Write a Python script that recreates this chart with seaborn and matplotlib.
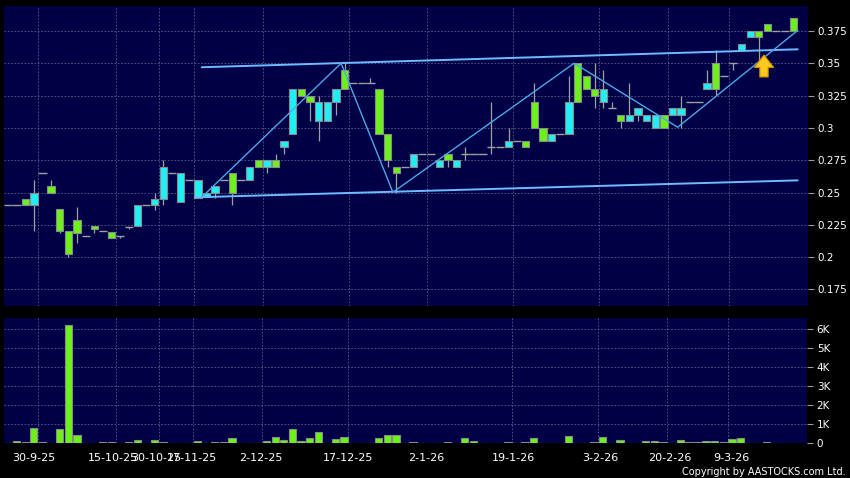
import matplotlib
matplotlib.use('Agg')
import matplotlib.pyplot as plt
from matplotlib.ticker import FuncFormatter
import numpy as np
import pandas as pd
import seaborn as sns

# daily OHLC, one entry per session
opens = [0.24, 0.24, 0.245, 0.24, 0.265, 0.255, 0.2375, 0.22, 0.229, 0.216,
         0.224, 0.22, 0.2195, 0.216, 0.2235, 0.224, 0.24, 0.24, 0.245, 0.265,
         0.243, 0.26, 0.246, 0.2465, 0.25, 0.26, 0.265, 0.26, 0.26, 0.275,
         0.27, 0.275, 0.285, 0.295, 0.33, 0.325, 0.305, 0.305, 0.32, 0.345,
         0.335, 0.335, 0.335, 0.33, 0.295, 0.27, 0.27, 0.27, 0.28, 0.28,
         0.27, 0.28, 0.27, 0.28, 0.28, 0.28, 0.2855, 0.2855, 0.285, 0.29,
         0.29, 0.32, 0.30, 0.29, 0.295, 0.295, 0.35, 0.34, 0.33, 0.32,
         0.315, 0.31, 0.305, 0.31, 0.305, 0.30, 0.31, 0.31, 0.31, 0.32,
         0.32, 0.33, 0.35, 0.34, 0.35, 0.36, 0.37, 0.375, 0.38, 0.375,
         0.375, 0.385]
highs = [0.24, 0.24, 0.245, 0.26, 0.265, 0.26, 0.2375, 0.22, 0.2385, 0.216,
         0.224, 0.22, 0.2195, 0.216, 0.2235, 0.24, 0.24, 0.25, 0.275, 0.265,
         0.265, 0.26, 0.26, 0.25, 0.255, 0.26, 0.265, 0.26, 0.27, 0.275,
         0.275, 0.28, 0.29, 0.33, 0.33, 0.325, 0.325, 0.32, 0.33, 0.35,
         0.335, 0.335, 0.3385, 0.33, 0.295, 0.27, 0.27, 0.28, 0.28, 0.28,
         0.275, 0.28, 0.275, 0.2855, 0.28, 0.28, 0.32, 0.2855, 0.30, 0.29,
         0.29, 0.335, 0.30, 0.295, 0.295, 0.34, 0.35, 0.34, 0.35, 0.345,
         0.32, 0.31, 0.335, 0.315, 0.31, 0.31, 0.31, 0.315, 0.325, 0.32,
         0.32, 0.345, 0.36, 0.34, 0.35, 0.365, 0.375, 0.375, 0.38, 0.375,
         0.375, 0.385]
lows = [0.24, 0.24, 0.24, 0.22, 0.265, 0.25, 0.219, 0.20, 0.211, 0.216,
        0.219, 0.22, 0.215, 0.215, 0.222, 0.224, 0.24, 0.2365, 0.24, 0.265,
        0.243, 0.26, 0.246, 0.2465, 0.246, 0.26, 0.24, 0.26, 0.26, 0.27,
        0.265, 0.27, 0.28, 0.295, 0.325, 0.305, 0.29, 0.305, 0.31, 0.33,
        0.335, 0.335, 0.335, 0.295, 0.27, 0.25, 0.27, 0.27, 0.28, 0.28,
        0.27, 0.27, 0.27, 0.275, 0.28, 0.28, 0.28, 0.2855, 0.285, 0.29,
        0.285, 0.30, 0.29, 0.29, 0.295, 0.295, 0.32, 0.33, 0.315, 0.315,
        0.315, 0.30, 0.305, 0.305, 0.305, 0.30, 0.30, 0.31, 0.30, 0.32,
        0.32, 0.33, 0.325, 0.34, 0.345, 0.36, 0.37, 0.35, 0.375, 0.375,
        0.375, 0.375]
closes = [0.24, 0.24, 0.24, 0.25, 0.265, 0.25, 0.22, 0.2025, 0.219, 0.216,
          0.222, 0.22, 0.215, 0.216, 0.2235, 0.24, 0.24, 0.245, 0.27, 0.265,
          0.265, 0.26, 0.26, 0.25, 0.255, 0.26, 0.25, 0.26, 0.27, 0.27,
          0.275, 0.27, 0.29, 0.33, 0.325, 0.32, 0.32, 0.32, 0.33, 0.33,
          0.335, 0.335, 0.335, 0.295, 0.275, 0.265, 0.27, 0.28, 0.28, 0.28,
          0.275, 0.275, 0.275, 0.28, 0.28, 0.28, 0.2855, 0.2855, 0.29, 0.29,
          0.285, 0.30, 0.29, 0.295, 0.295, 0.32, 0.32, 0.33, 0.325, 0.33,
          0.315, 0.305, 0.31, 0.315, 0.31, 0.31, 0.30, 0.315, 0.315, 0.32,
          0.32, 0.335, 0.33, 0.34, 0.35, 0.365, 0.375, 0.37, 0.375, 0.375,
          0.375, 0.375]
volumes = [10, 120, 70, 800, 50, 30, 750, 6200, 440, 10,
           0, 50, 50, 0, 50, 175, 10, 190, 70, 0,
           0, 0, 100, 0, 50, 50, 260, 10, 10, 10,
           100, 310, 160, 730, 140, 260, 610, 10, 245, 310,
           0, 0, 0, 260, 450, 420, 0, 50, 0, 0,
           0, 50, 0, 260, 100, 0, 0, 0, 90, 0,
           50, 280, 20, 20, 0, 385, 20, 0, 50, 330,
           0, 190, 30, 30, 140, 140, 90, 0, 190, 50,
           90, 120, 100, 50, 245, 280, 0, 0, 50, 10,
           0, 0]

date_labels = ['30-9-25', '15-10-25', '30-10-25', '17-11-25', '2-12-25', '17-12-25',
               '2-1-26', '19-1-26', '3-2-26', '20-2-26', '9-3-26']
date_pos = [3.0, 12.2, 17.2, 21.3, 29.3, 39.4, 48.5, 58.7, 68.7, 76.8, 83.9]
grid_pos = [3.5, 12.5, 17.5, 21.5, 29.5, 39.5, 48.5, 58.5, 68.5, 76.5, 83.5]
price_ticks = [0.175, 0.2, 0.225, 0.25, 0.275, 0.3, 0.325, 0.35, 0.375]
vol_ticks = [0, 1000, 2000, 3000, 4000, 5000, 6000]

# drawn trend lines
zigzag_x = [22.45, 38.6, 44.6, 65.6, 77.6, 91.5]
zigzag_y = [0.2463, 0.350, 0.2502, 0.350, 0.3005, 0.3754]
upper_x = [22.45, 91.5]
upper_y = [0.3469, 0.3608]
lower_x = [21.7, 91.5]
lower_y = [0.2463, 0.2594]
arrow_x = 87.6
arrow_y = [0.3394, 0.3564]

BG = '#000046'
GRID = '#5c5c8c'
CYAN = '#1ff0f8'
GREEN = '#6cf21a'
EDGE = '#8a8a8a'

sns.set_style('dark', {'axes.facecolor': BG, 'figure.facecolor': 'black'})
plt.rcParams['font.family'] = ['DejaVu Sans']

df = pd.DataFrame({'open': opens, 'high': highs, 'low': lows,
                   'close': closes, 'volume': volumes})
df['i'] = np.arange(len(df))
df['top'] = df[['open', 'close']].max(axis=1)
df['bot'] = df[['open', 'close']].min(axis=1)

fig = plt.figure(figsize=(8.5, 4.78), dpi=100)
fig.patch.set_facecolor('black')
ax = fig.add_axes([4 / 850, 172 / 478, 804 / 850, 300 / 478])
axv = fig.add_axes([4 / 850, 34.7 / 478, 803 / 850, 125 / 478])

# --- candles ---
wick = df[(df['high'] > df['top']) | (df['low'] < df['bot'])]
ax.vlines(wick['i'], wick['low'], wick['high'], color='#a0a0a0', lw=0.9, zorder=2)

doji = df[df['open'] == df['close']]
ax.hlines(doji['open'], doji['i'] - 0.48, doji['i'] + 0.48, color='#a0a0a0', lw=1.0, zorder=2)

body = df[df['open'] != df['close']]
cols = [CYAN if c > o else GREEN for o, c in zip(body['open'], body['close'])]
ax.bar(body['i'], body['top'] - body['bot'], bottom=body['bot'], width=0.85,
       color=cols, edgecolor=EDGE, linewidth=0.8, zorder=3)

# --- trend lines ---
ax.plot(upper_x, upper_y, color='#6cbcff', lw=1.4, zorder=4)
ax.plot(lower_x, lower_y, color='#6cbcff', lw=1.4, zorder=4)
sns.lineplot(x=zigzag_x, y=zigzag_y, sort=False, color='#4ea6e8', lw=1.0, ax=ax, zorder=4)

ax.annotate('', xy=(arrow_x, arrow_y[1]), xytext=(arrow_x, arrow_y[0]),
            arrowprops=dict(arrowstyle='simple,head_length=0.9,head_width=1.4,tail_width=0.6',
                            mutation_scale=10, facecolor='#ffc81e', edgecolor='#d08a00',
                            lw=0.8, shrinkA=0, shrinkB=0), zorder=5)

ax.set_xlim(-0.46, 92.7)
ax.set_ylim(0.1622, 0.3943)
ax.set_xticks(grid_pos)
ax.set_xticklabels([])
ax.set_yticks(price_ticks)
ax.yaxis.tick_right()
ax.yaxis.set_major_formatter(FuncFormatter(lambda v, p: f'{v:g}'))
ax.tick_params(axis='x', length=0)
ax.tick_params(axis='y', length=4, width=0.8, color='#9a9a9a', labelcolor='white',
               labelsize=7.5, pad=3, direction='out')
ax.grid(True, color=GRID, linestyle=(0, (2, 2)), lw=0.6)
ax.set_xlabel('')
ax.set_ylabel('')

# --- volume ---
sns.barplot(data=df, x='i', y='volume', native_scale=True, width=0.85, color=GREEN,
            saturation=1, edgecolor=EDGE, linewidth=0.8, errorbar=None, ax=axv, zorder=3)
axv.set_xlim(-0.46, 92.7)
axv.set_ylim(0, 6560)
axv.set_xticks(date_pos)
axv.set_xticklabels(date_labels)
axv.set_xticks(grid_pos, minor=True)
axv.set_yticks(vol_ticks)
axv.yaxis.tick_right()
axv.yaxis.set_major_formatter(FuncFormatter(lambda v, p: '0' if v == 0 else f'{v / 1000:.0f}K'))
axv.tick_params(axis='x', which='major', length=4, width=0.8, color='#9a9a9a',
                labelcolor='white', labelsize=8, pad=3)
axv.tick_params(axis='x', which='minor', length=0)
axv.tick_params(axis='y', length=4, width=0.8, color='#9a9a9a', labelcolor='white',
                labelsize=7.5, pad=3)
axv.grid(False)
axv.grid(True, which='minor', axis='x', color=GRID, linestyle=(0, (2, 2)), lw=0.6)
axv.grid(True, which='major', axis='y', color=GRID, linestyle=(0, (2, 2)), lw=0.6)
axv.set_xlabel('')
axv.set_ylabel('')

for a in (ax, axv):
    for s in a.spines.values():
        s.set_visible(False)
    a.set_axisbelow(True)

fig.text(0.995, 0.013, 'Copyright by AASTOCKS.com Ltd.', color='white', fontsize=7,
         ha='right', va='center')

fig.savefig('out.png', dpi=100, facecolor='black')
